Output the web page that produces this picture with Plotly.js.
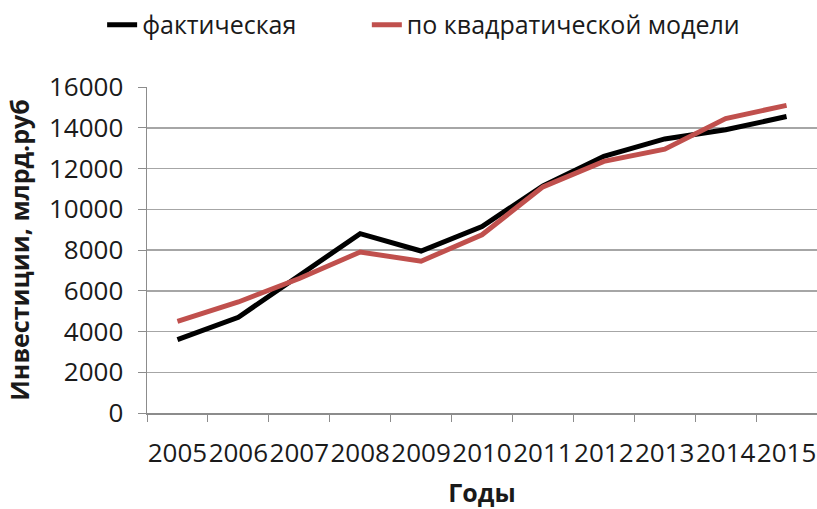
<!DOCTYPE html>
<html>
<head>
<meta charset="utf-8">
<script src="https://cdn.plot.ly/plotly-3.0.1.min.js"></script>
<style>html,body{margin:0;padding:0;background:#fff;}#chart{width:817px;height:509px;}</style>
</head>
<body>
<div id="chart"></div>
<script>
var years = ['2005','2006','2007','2008','2009','2010','2011','2012','2013','2014','2015'];
var actual = [3600, 4700, 6750, 8800, 7950, 9150, 11150, 12600, 13450, 13900, 14550];
var quadModel = [4500, 5450, 6600, 7900, 7450, 8750, 11100, 12350, 12950, 14450, 15100];
var seriesNames = ['фактическая', 'по квадратической модели'];
var yTitle = 'Инвестиции, млрд.руб';
var xTitle = 'Годы';

var traces = [
  {x: years, y: actual, name: seriesNames[0], type: 'scatter', mode: 'lines',
   line: {color: '#000000', width: 5}, legend: 'legend'},
  {x: years, y: quadModel, name: seriesNames[1], type: 'scatter', mode: 'lines',
   line: {color: '#C0504D', width: 5}, legend: 'legend2'}
];

var fontFam = '"Open Sans", "DejaVu Sans", sans-serif';
var legFont = {family: fontFam, size: 25, color: '#1a1a1a'};
var layout = {
  width: 817, height: 509,
  margin: {l: 147, r: 0, t: 87, b: 96},
  paper_bgcolor: '#fff', plot_bgcolor: '#fff',
  font: {family: fontFam, size: 26, color: '#1a1a1a'},
  showlegend: true,
  legend: {orientation: 'h', xref: 'container', yref: 'container', x: 0.125, y: 0.951,
    xanchor: 'left', yanchor: 'middle', font: legFont, bgcolor: 'rgba(0,0,0,0)'},
  legend2: {orientation: 'h', xref: 'container', yref: 'container', x: 0.449, y: 0.951,
    xanchor: 'left', yanchor: 'middle', font: legFont, bgcolor: 'rgba(0,0,0,0)'},
  xaxis: {type: 'category', range: [-0.5, 10.5], tickangle: 0, tickson: 'boundaries', ticks: 'outside', ticklen: 7,
    tickcolor: '#8c8c8c', showline: true, linecolor: '#8c8c8c', linewidth: 1.5,
    showgrid: false, zeroline: false, ticklabelstandoff: 16,
    title: {text: xTitle, font: {size: 25, color: '#1a1a1a', weight: 'bold'}, standoff: 22}},
  yaxis: {range: [0, 16000], dtick: 2000, ticks: 'outside', ticklen: 8, tickcolor: '#8c8c8c',
    showline: true, linecolor: '#8c8c8c', linewidth: 1.5, showgrid: true, gridcolor: '#a6a6a6',
    gridwidth: 1.5, zeroline: false, tickformat: 'd', ticklabelstandoff: 9,
    title: {text: yTitle, font: {size: 25, color: '#1a1a1a', weight: 'bold'}, standoff: 12}}
};

Plotly.newPlot('chart', traces, layout, {displayModeBar: false, staticPlot: true});
</script>
</body>
</html>
